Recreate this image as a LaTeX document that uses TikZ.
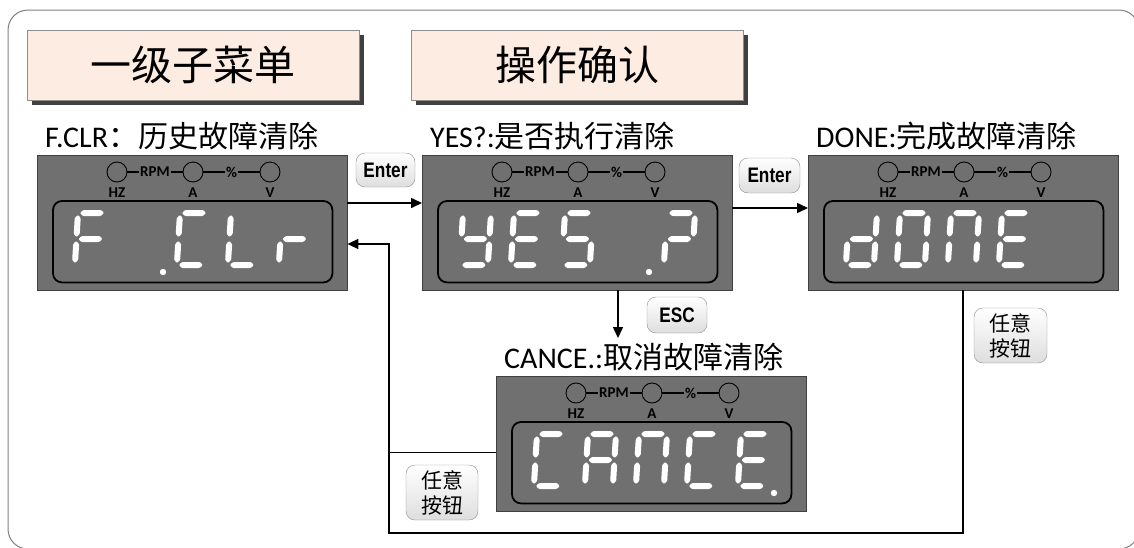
\documentclass[tikz,border=0pt]{standalone}
\usepackage{fontspec}
\setmainfont{Carlito}
\newfontfamily\cjk{Noto Sans CJK SC}
\newfontfamily\btnfont[FakeStretch=0.82]{Liberation Sans}
\usetikzlibrary{arrows.meta,calc,positioning,shadows}
\definecolor{lcdgray}{RGB}{112,112,112}
\definecolor{peach}{RGB}{252,236,226}
\definecolor{framegray}{RGB}{128,128,128}
% seven segment pieces, local frame: top-left of the digit, y downwards
\def\hseg(#1,#2){\fill[seg] (#1,#2) -- ++(3,-3) -- ++(18,0) -- ++(3,3) -- ++(-3,3) -- ++(-18,0) -- cycle;}
\def\vseg(#1,#2){\fill[seg] (#1,#2) -- ++(3,3) -- ++(0,16) -- ++(-3,3) -- ++(-3,-3) -- ++(0,-16) -- cycle;}
\def\dsega{\hseg(2,0)}\def\dsegg{\hseg(2,26)}\def\dsegd{\hseg(2,52)}
\def\dsegf{\vseg(0,2)}\def\dsege{\vseg(0,28)}\def\dsegb{\vseg(28,2)}\def\dsegc{\vseg(28,28)}
\def\digit(#1,#2)#3{\edef\seglist{#3}%
  \begin{scope}[shift={(#1,#2)},xslant=0.06]
    \foreach \s in \seglist {\csname dseg\s\endcsname}
  \end{scope}}
% display panel with lamps and title
\def\panel#1(#2,#3)#4{%
  \node[lcd] (#1) at (#2,#3) {};
  \draw[lcdin] ($(#1.north west)+(16,46)$) rectangle ($(#1.south east)+(-15,-8)$);
  \node[lamp] (#1h) at ($(#1.north west)+(80,17)$) {};
  \node[lamp] (#1a) at ($(#1.north west)+(156,17)$) {};
  \node[lamp] (#1v) at ($(#1.north west)+(233,17)$) {};
  \draw[lampline] (#1h) -- node[tag]{RPM} (#1a);
  \draw[lampline] (#1a) -- node[tag]{\%} (#1v);
  \node[tag] at ($(#1h)+(0,21)$) {HZ};
  \node[tag] at ($(#1a)+(0,21)$) {A};
  \node[tag] at ($(#1v)+(0,21)$) {V};
  \node[title] at ($(#1.north west)+(8,-8)$) {#4};}

\begin{document}
\begin{tikzpicture}[x=1pt,y=-1pt,
  lcd/.style={draw=black!75, fill=lcdgray, minimum width=310pt, minimum height=135pt, anchor=north west, inner sep=0pt},
  lcdin/.style={draw=black, line width=1.8pt, rounded corners=9pt},
  lamp/.style={circle, draw=black, line width=0.9pt, minimum size=20pt, inner sep=0pt},
  lampline/.style={line width=1.1pt},
  tag/.style={fill=lcdgray, inner sep=1.5pt, font=\fontsize{15}{15}\selectfont\bfseries},
  title/.style={anchor=base west, inner sep=0pt, font=\fontsize{30}{30}\selectfont},
  seg/.style={fill=white, rounded corners=1pt},
  menu/.style={draw=black!45, fill=peach, minimum width=332pt, minimum height=70pt, font=\cjk\fontsize{41}{41}\selectfont,
    drop shadow={shadow xshift=5pt, shadow yshift=-5pt, opacity=1, fill=black!75}},
  btn/.style={draw=black!45, rounded corners=9pt, top color=white, bottom color=black!13, inner sep=0pt},
  enter/.style={btn, font=\btnfont\bfseries\fontsize{21}{21}\selectfont},
  anykey/.style={btn, align=center, font=\cjk\fontsize{21}{25}\selectfont},
  line/.style={line width=1.5pt},
  arr/.style={line, -{Triangle[length=11pt,width=10pt]}}]

\useasboundingbox (0,0) rectangle (1134,547);
\draw[framegray, line width=1pt, rounded corners=20pt] (8,10) rectangle (1139,549);

%%% headings
\node[menu] (m1) at (193,65) {一级子菜单};
\node[menu] (m2) at (577,65) {操作确认};

%%% panels
\panel b1(37,155){F.CLR{\cjk ：历史故障清除}}
\panel b2(422,155){YES?:{\cjk 是否执行清除}}
\panel b3(808,155){DONE:{\cjk 完成故障清除}}
\panel b4(496,376){CANCE.:{\cjk 取消故障清除}}

%%% digits
\foreach \k/\segs in {0/{a,f,e,g},2/{a,f,e,d},3/{f,e,d},4/{e,g}} {\digit(78+51*\k,213){\segs}}
\fill[white] (163,272) circle (3.2pt);
\foreach \k/\segs in {0/{f,b,g,c,d},1/{a,f,g,e,d},2/{a,f,g,c,d},4/{a,b,g,e}} {\digit(463+51*\k,213){\segs}}
\fill[white] (649,272) circle (3.2pt);
\foreach \k/\segs in {0/{b,c,d,e,g},1/{a,b,c,d,e,f},2/{a,b,c,e,f},3/{a,d,e,f,g}} {\digit(849+51*\k,213){\segs}}
\foreach \k/\segs in {0/{a,f,e,d},1/{a,b,c,e,f,g},2/{a,b,c,e,f},3/{a,f,e,d},4/{a,d,e,f,g}} {\digit(537+51*\k,434){\segs}}
\fill[white] (774,493) circle (3.2pt);

%%% keys
\node[enter, minimum width=59pt, minimum height=34pt] (k1) at (385.5,170) {Enter};
\node[enter, minimum width=61pt, minimum height=35pt] (k2) at (769.5,175.5) {Enter};
\node[enter, minimum width=60pt, minimum height=36pt] (k3) at (677,315) {ESC};
\node[anykey, minimum width=72pt, minimum height=55pt] (k4) at (442,492.5) {任意\\按钮};
\node[anykey, minimum width=73pt, minimum height=55pt] (k5) at (1010.5,335.5) {任意\\按钮};

%%% connectors
\draw[arr] ($(b1.north east)+(0,48)$) -- ($(b2.north west)+(0,48)$);
\draw[arr] ($(b2.north east)+(0,53)$) -- ($(b3.north west)+(0,53)$);
\coordinate (esc) at (618,338);
\draw[arr] (esc |- b2.south) -- (esc);
\coordinate (loop) at (389,533);
\draw[arr] (b3.south) |- (loop) |- ($(b1.north east)+(0,89)$);
\coordinate (back) at ($(b4.south west)+(0,-59)$);
\draw[line] (back) -- (back -| loop);

\end{tikzpicture}
\end{document}
